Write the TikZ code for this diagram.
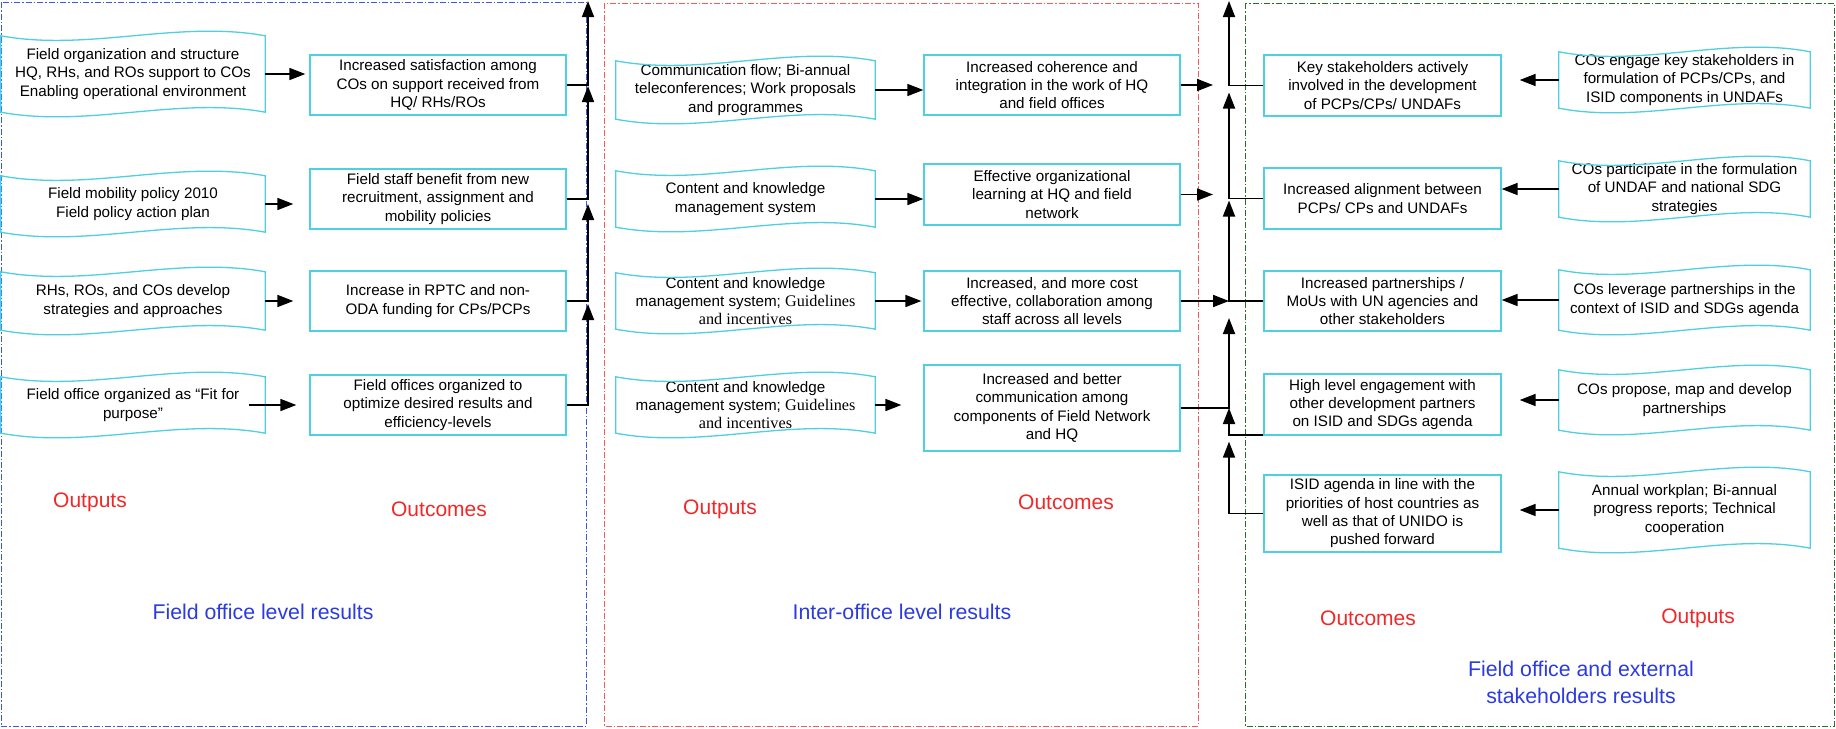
\documentclass[tikz,border=0pt]{standalone}
\usepackage{fontspec}
\setmainfont{Liberation Sans}
\newfontfamily\serifpart{Liberation Serif}
\usetikzlibrary{arrows.meta,calc}
\definecolor{boxcyan}{RGB}{77,208,225}
\definecolor{lblred}{RGB}{240,40,40}
\definecolor{lblblue}{RGB}{43,59,224}
\definecolor{frblue}{RGB}{60,90,225}
\definecolor{frred}{RGB}{240,90,90}
\definecolor{frgreen}{RGB}{40,110,40}
\newcommand{\tapeshape}[1]{\draw[tapeline] (#1.north west) .. controls ($(#1.north west)!0.33!(#1.north east)+(0,16)$) and ($(#1.north west)!0.67!(#1.north east)+(0,-16)$) .. (#1.north east) -- (#1.south east) .. controls ($(#1.south west)!0.67!(#1.south east)+(0,-16)$) and ($(#1.south west)!0.33!(#1.south east)+(0,16)$) .. (#1.south west) -- cycle;}
\newcommand{\srf}[1]{{\fontsize{16.2}{18.3}\serifpart #1}}
\begin{document}
\begin{tikzpicture}[x=1pt,y=-1pt,
  txt/.style={inner sep=0pt, align=center, font=\fontsize{15.2}{18.3}\selectfont},
  tape/.style={txt},
  tapeline/.style={draw=boxcyan, line width=1.3pt},
  outc/.style={txt, draw=boxcyan, line width=1.3pt},
  conn/.style={line width=1.7pt, black},
  arr/.style={conn, -{Triangle[length=16pt,width=12pt]}},
  frame/.style={line width=1pt, dash pattern=on 6pt off 2pt on 1.5pt off 2pt},
  redlbl/.style={text=lblred, font=\fontsize{21}{25}\selectfont},
  bluelbl/.style={text=lblblue, align=center, font=\fontsize{21.3}{27}\selectfont}
]
\useasboundingbox (0,0) rectangle (1836,728);
% frames
\draw[frame, draw=frblue] (1,2) rectangle (586,726);
\draw[frame, draw=frred] (604,3) rectangle (1198,726);
\draw[frame, draw=frgreen] (1245,3) rectangle (1834,726);
\coordinate (v1top) at (588,1);
\coordinate (v2top) at (1229,1);

% column 1
\node[tape, minimum width=264pt, minimum height=76pt] (o1a) at (133,74) {Field organization and structure\\HQ, RHs, and ROs support to COs\\Enabling operational environment};
\node[tape, minimum width=264pt, minimum height=56pt] (o1b) at (133,204) {Field mobility policy 2010\\Field policy action plan};
\node[tape, minimum width=264pt, minimum height=58pt] (o1c) at (133,301) {RHs, ROs, and COs develop\\strategies and approaches};
\node[tape, minimum width=264pt, minimum height=56pt] (o1d) at (133,405) {Field office organized as “Fit for\\purpose”};
\foreach \n in {o1a,o1b,o1c,o1d} {\tapeshape{\n}}
\node[outc, minimum width=256pt, minimum height=60pt] (r1a) at (438,85) {Increased satisfaction among\\COs on support received from\\HQ/ RHs/ROs};
\node[outc, minimum width=256pt, minimum height=60pt] (r1b) at (438,199) {Field staff benefit from new\\recruitment, assignment and\\mobility policies};
\node[outc, minimum width=256pt, minimum height=60pt] (r1c) at (438,301) {Increase in RPTC and non-\\ODA funding for CPs/PCPs};
\node[outc, minimum width=256pt, minimum height=60pt] (r1d) at (438,405) {Field offices organized to\\optimize desired results and\\efficiency-levels};

% column 2
\node[tape, minimum width=259pt, minimum height=58pt] (o2a) at (745.5,90) {Communication flow; Bi-annual\\teleconferences; Work proposals\\and programmes};
\node[tape, minimum width=259pt, minimum height=56pt] (o2b) at (745.5,199) {Content and knowledge\\management system};
\node[tape, minimum width=259pt, minimum height=56pt] (o2c) at (745.5,301) {Content and knowledge\\management system; \srf{Guidelines}\\\srf{and incentives}};
\node[tape, minimum width=259pt, minimum height=56pt] (o2d) at (745.5,405) {Content and knowledge\\management system; \srf{Guidelines}\\\srf{and incentives}};
\foreach \n in {o2a,o2b,o2c,o2d} {\tapeshape{\n}}
\node[outc, minimum width=256pt, minimum height=60pt] (r2a) at (1052,85) {Increased coherence and\\integration in the work of HQ\\and field offices};
\node[outc, minimum width=256pt, minimum height=61pt] (r2b) at (1052,194.5) {Effective organizational\\learning at HQ and field\\network};
\node[outc, minimum width=256pt, minimum height=60pt] (r2c) at (1052,301) {Increased, and more cost\\effective, collaboration among\\staff across all levels};
\node[outc, minimum width=256pt, minimum height=86pt] (r2d) at (1052,408) {Increased and better\\communication among\\components of Field Network\\and HQ};

% column 3
\node[outc, minimum width=237pt, minimum height=61pt] (r3a) at (1382.5,85.5) {Key stakeholders actively\\involved in the development\\of PCPs/CPs/ UNDAFs};
\node[outc, minimum width=237pt, minimum height=61pt] (r3b) at (1382.5,198.5) {Increased alignment between\\PCPs/ CPs and UNDAFs};
\node[outc, minimum width=237pt, minimum height=60pt] (r3c) at (1382.5,301) {Increased partnerships /\\MoUs with UN agencies and\\other stakeholders};
\node[outc, minimum width=237pt, minimum height=61pt] (r3d) at (1382.5,404.5) {High level engagement with\\other development partners\\on ISID and SDGs agenda};
\node[outc, minimum width=237pt, minimum height=77pt] (r3e) at (1382.5,513.5) {ISID agenda in line with the\\priorities of host countries as\\well as that of UNIDO is\\pushed forward};
\node[tape, minimum width=251pt, minimum height=56pt] (o3a) at (1684.5,80) {COs engage key stakeholders in\\formulation of PCPs/CPs, and\\ISID components in UNDAFs};
\node[tape, minimum width=251pt, minimum height=56pt] (o3b) at (1684.5,189) {COs participate in the formulation\\of UNDAF and national SDG\\strategies};
\node[tape, minimum width=251pt, minimum height=60pt] (o3c) at (1684.5,300) {COs leverage partnerships in the\\context of ISID and SDGs agenda};
\node[tape, minimum width=251pt, minimum height=60pt] (o3d) at (1684.5,400) {COs propose, map and develop\\partnerships};
\node[tape, minimum width=251pt, minimum height=76pt] (o3e) at (1684.5,510) {Annual workplan; Bi-annual\\progress reports; Technical\\cooperation};
\foreach \n in {o3a,o3b,o3c,o3d,o3e} {\tapeshape{\n}}

% connectors column 1
\draw[arr] (o1a.east) -- ($(o1a.east -| r1a.west)+(-4,0)$);
\draw[arr] (o1b.east) -- ($(o1b.east -| r1b.west)+(-16,0)$);
\draw[arr] (o1c.east) -- ($(o1c.east -| r1c.west)+(-16,0)$);
\draw[arr] ($(o1d.east)+(-16,0)$) -- ($(o1d.east -| r1d.west)+(-13,0)$);
\draw[arr] (r1d.east) -| ($(r1c.east -| v1top)+(0,3)$);
\draw[arr] (r1c.east) -| ($(r1b.east -| v1top)+(0,5)$);
\draw[arr] (r1b.east) -| ($(r1a.east -| v1top)+(0,1)$);
\draw[arr] (r1a.east) -| (v1top);

% connectors column 2
\draw[arr] (o2a.east) -- (o2a.east -| r2a.west);
\draw[arr] (o2b.east) -- (o2b.east -| r2b.west);
\draw[arr] (o2c.east) -- ($(o2c.east -| r2c.west)+(-2,0)$);
\draw[arr] (o2d.east) -- ($(o2d.east -| r2d.west)+(-22,0)$);
\draw[arr] (r2a.east) -- ($(r2a.east -| v2top)+(-16,0)$);
\draw[arr] (r2b.east) -- ($(r2b.east -| v2top)+(-16,0)$);
\draw[arr] (r2c.east) -- (r2c.east -| v2top);
\draw[arr] (r2d.east) -| ($(r3c.west -| v2top)+(0,17)$);

% connectors column 3
\draw[arr] (r3a.west) -| (v2top);
\draw[arr] (r3b.west) -| ($(r3a.west -| v2top)+(0,7)$);
\draw[arr] (r3c.west) -| ($(r3b.west -| v2top)+(0,2)$);
\draw[arr] ($(r3d.south west)+(0,-1)$) -| (r2d.east -| v2top);
\draw[arr] (r3e.west) -| ($(r3d.south west -| v2top)+(0,6)$);
\draw[arr] (o3a.west) -- ($(o3a.west -| r3a.east)+(18,0)$);
\draw[arr] (o3b.west) -- (o3b.west -| r3b.east);
\draw[arr] (o3c.west) -- (o3c.west -| r3c.east);
\draw[arr] (o3d.west) -- ($(o3d.west -| r3d.east)+(18,0)$);
\draw[arr] (o3e.west) -- ($(o3e.west -| r3e.east)+(18,0)$);

% labels
\node[redlbl] (l1) at (90,502) {Outputs};
\node[redlbl] (l2) at (439,509) {Outcomes};
\node[redlbl] (l3) at (720,509) {Outputs};
\node[redlbl] (l4) at (1066,502) {Outcomes};
\node[redlbl] (l5) at (1368,618) {Outcomes};
\node[redlbl] (l6) at (1698,618) {Outputs};
\node[bluelbl] (t1) at (263,612) {Field office level results};
\node[bluelbl] (t2) at (902,612) {Inter-office level results};
\node[bluelbl] (t3) at (1581,682) {Field office and external\\stakeholders results};
\end{tikzpicture}
\end{document}
